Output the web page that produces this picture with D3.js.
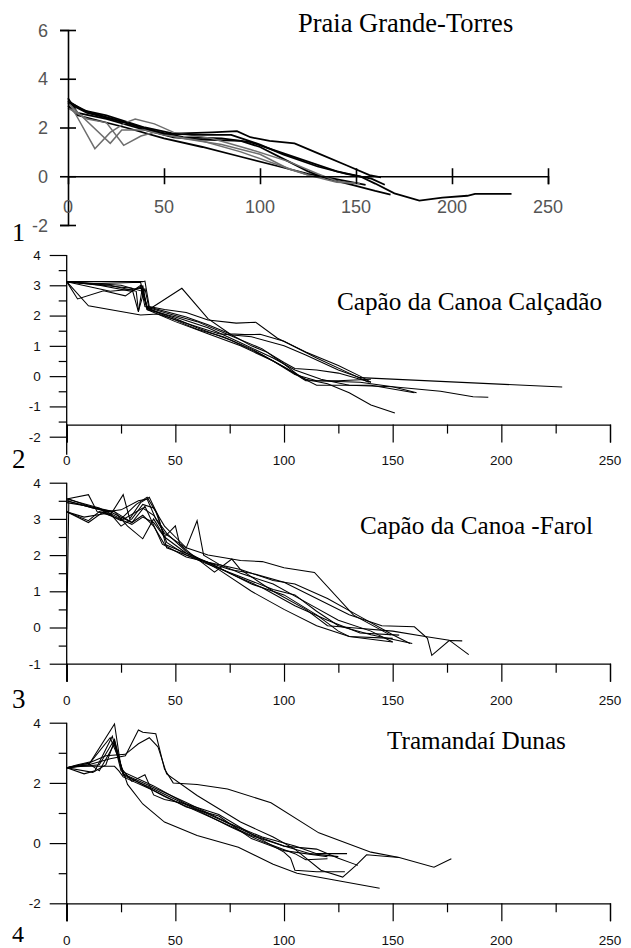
<!DOCTYPE html>
<html>
<head>
<meta charset="utf-8">
<script src="https://cdn.jsdelivr.net/npm/d3@7"></script>
<style>
  html, body { margin: 0; padding: 0; background: #fff; }
  svg { display: block; }
</style>
</head>
<body>
<svg id="chart" width="631" height="948"></svg>
<script>
// ---------- DATA ----------
const panelTitles = ["Praia Grande-Torres", "Capão da Canoa Calçadão", "Capão da Canoa -Farol", "Tramandaí Dunas"];
const panelNumbers = ["1", "2", "3", "4"];
const xTicks = [0, 50, 100, 150, 200, 250];
const xMinorTicks = [25, 75, 125, 175, 225];
const yTicks1 = [6, 4, 2, 0, -2];
const yTicks2 = [4, 3, 2, 1, 0, -1, -2];
const yMinor2 = [3.5, 2.5, 1.5, 0.5, -0.5, -1.5];
const yTicks3 = [4, 3, 2, 1, 0, -1];
const yMinor3 = [3.5, 2.5, 1.5, 0.5, -0.5];
const yTicks4 = [4, 2, 0, -2];
const yMinor4 = [3, 1, -1];

// Panel 1: Praia Grande-Torres (distance m, elevation m); grey flag per profile
const torresGrey = [false, false, false, false, true, true, true, false];
const torresProfiles = [
  [[0,3.1],[8,2.7],[20,2.5],[40,2.0],[55,1.75],[75,1.8],[88,1.85],[95,1.6],[105,1.45],[118,1.35],[130,0.95],[145,0.45],[157,0.05],[163,-0.05]],
  [[0,3.0],[10,2.6],[25,2.3],[45,1.85],[60,1.6],[80,1.55],[95,1.4],[110,1.0],[125,0.6],[140,0.2],[152,0.0],[160,-0.3],[170,-0.7],[183,-1.0],[195,-0.88],[208,-0.8],[212,-0.72],[231,-0.72]],
  [[0,3.2],[5,2.6],[20,2.35],[40,1.9],[55,1.6],[70,1.5],[90,1.45],[100,1.2],[115,0.6],[125,0.2],[135,-0.1],[148,-0.35],[160,-0.6],[168,-0.75]],
  [[0,2.9],[5,2.5],[30,2.0],[50,1.55],[70,1.2],[90,0.8],[110,0.4],[125,0.1],[135,-0.05],[145,-0.2],[155,-0.35]],
  [[0,3.1],[5,2.4],[14,1.13],[22,1.8],[30,2.2],[35,2.35],[45,2.15],[55,1.8],[75,1.55],[95,1.1],[115,0.6],[130,0.1],[140,-0.2],[150,-0.3]],
  [[0,3.0],[8,2.4],[22,1.35],[28,1.9],[40,1.9],[50,1.7],[70,1.45],[90,1.0],[110,0.45],[125,0.05],[140,-0.25],[152,-0.3]],
  [[0,2.8],[10,2.35],[20,2.2],[29,1.27],[38,1.65],[45,1.8],[60,1.55],[80,1.3],[100,0.9],[115,0.3],[125,0.05]],
  [[0,3.05],[10,2.65],[30,2.2],[50,1.75],[70,1.7],[85,1.7],[100,1.3],[112,0.9],[130,0.4],[145,0.1],[158,-0.1],[165,-0.35]]
];

// Panel 2: Capão da Canoa Calçadão
const calcadaoProfiles = [
  [[0,3.12],[35,3.12],[36,3.14],[38,2.3],[45,2.2],[55,2.1],[65,1.85],[78,1.75],[87,1.78],[97,1.25],[110,0.8],[125,0.35],[135,0.0],[140,-0.2]],
  [[0,3.12],[5,2.55],[17,2.82],[27,2.65],[34,3.0],[36,2.3],[45,2.1],[60,1.8],[75,1.35],[90,0.9],[100,0.4],[108,-0.05],[115,-0.3],[125,-0.3],[140,-0.3],[160,-0.55]],
  [[0,3.12],[10,2.32],[34,2.02],[42,2.05],[55,1.75],[70,1.4],[85,1.3],[100,1.0],[110,0.7],[125,0.2],[135,-0.05],[228,-0.36]],
  [[0,3.12],[30,2.9],[33,2.12],[35,3.0],[37,2.2],[50,1.8],[65,1.4],[80,1.0],[95,0.5],[105,0.05],[115,-0.15],[135,-0.2],[150,-0.35],[172,-0.5],[187,-0.68],[194,-0.7]],
  [[0,3.12],[20,3.0],[32,2.8],[33,2.15],[36,2.9],[38,2.2],[40,2.3],[53,2.9],[65,1.9],[75,1.4],[85,1.0],[92,0.8],[100,0.45],[105,0.25],[115,0.2],[125,0.1],[135,-0.1],[140,-0.2]],
  [[0,3.12],[15,3.0],[30,2.8],[34,2.95],[37,2.25],[50,1.9],[60,1.6],[75,1.2],[90,0.7],[100,0.3],[110,-0.1],[120,-0.25],[130,-0.55],[140,-0.95],[151,-1.22]],
  [[0,3.12],[25,3.0],[35,2.8],[37,2.3],[55,1.95],[65,1.7],[75,1.4],[82,1.37],[89,1.38],[100,1.15],[115,0.6],[130,0.1],[139,-0.2]],
  [[0,3.12],[12,3.05],[34,3.1],[37,2.25],[50,1.85],[60,1.55],[72,1.3],[85,0.9],[100,0.3],[110,-0.15],[125,-0.15],[140,-0.1]],
  [[0,3.12],[20,2.8],[35,2.9],[37,2.2],[50,1.95],[65,1.6],[80,1.1],[95,0.6],[105,0.2],[117,-0.1],[130,-0.3],[150,-0.35],[161,-0.55]]
];

// Panel 3: Capão da Canoa -Farol
const farolProfiles = [
  [[0,-0.05],[1,3.55],[8,3.4],[18,3.2],[25,3.25],[33,3.5],[37,3.55],[41,3.0],[45,2.6],[55,2.2],[65,2.0],[80,1.85],[90,1.82],[100,1.65],[114,1.52],[132,0.34],[149,-0.21]],
  [[0,3.55],[10,3.67],[14,3.2],[20,3.1],[26,3.67],[29,3.0],[34,3.45],[38,3.6],[42,3.1],[46,2.2],[55,2.0],[65,1.8],[75,1.6],[85,1.5],[100,1.25],[115,0.8],[130,0.35],[145,0.05],[160,0.02],[166,-0.3],[168,-0.77],[176,-0.36],[182,-0.37]],
  [[0,3.2],[10,2.95],[15,3.2],[20,3.15],[25,2.8],[30,3.0],[35,3.4],[40,3.3],[45,2.8],[50,2.5],[55,2.2],[60,2.95],[63,2.0],[70,1.75],[80,1.5],[95,1.2],[110,0.7],[125,0.2],[140,-0.1],[150,-0.4]],
  [[0,3.5],[12,3.3],[22,3.2],[28,2.8],[35,2.45],[40,3.0],[45,2.5],[50,2.81],[52,2.3],[58,1.99],[68,1.53],[76,1.89],[80,1.6],[95,1.0],[110,0.5],[120,0.05],[130,0.0],[150,-0.1],[165,-0.25],[176,-0.35],[185,-0.75]],
  [[0,3.2],[10,2.9],[17,3.2],[22,3.05],[30,2.85],[35,3.05],[40,2.9],[45,2.5],[55,2.05],[70,1.65],[85,1.2],[100,0.9],[115,0.35],[125,-0.1],[130,-0.25],[150,-0.3]],
  [[0,3.55],[15,3.3],[25,3.0],[32,3.4],[37,3.6],[41,3.2],[46,2.35],[55,2.0],[65,1.75],[80,1.4],[95,1.05],[105,0.9],[115,0.45],[125,0.05],[140,-0.2],[159,-0.44]],
  [[0,3.5],[12,3.3],[20,3.2],[30,2.9],[35,3.1],[40,2.8],[45,2.3],[55,2.05],[65,1.8],[75,1.5],[90,1.1],[105,0.6],[120,0.2],[135,-0.15],[153,-0.21]],
  [[0,3.2],[8,3.05],[18,3.15],[25,2.95],[35,3.3],[40,3.1],[46,2.6],[55,2.1],[70,1.6],[85,1.0],[100,0.5],[115,0.05],[130,-0.25],[150,-0.4]],
  [[0,3.45],[10,3.35],[22,3.2],[30,2.9],[36,3.35],[44,2.3],[55,1.95],[65,1.8],[80,1.6],[95,1.3],[105,1.2],[120,0.8],[135,0.3],[150,-0.2],[158,-0.44]]
];

// Panel 4: Tramandaí Dunas
const dunasProfiles = [
  [[0,2.5],[10,2.6],[20,2.8],[27,2.9],[33,3.76],[35,3.68],[41,3.63],[45,2.46],[49,2.0],[60,1.95],[74,1.8],[94,1.34],[116,0.34],[140,-0.3],[153,-0.48],[169,-0.8],[177,-0.52]],
  [[0,2.5],[10,2.65],[18,2.9],[27,2.95],[33,3.3],[38,3.5],[42,3.2],[46,2.3],[60,1.58],[80,0.7],[95,0.2],[105,-0.2],[117,-0.9],[127,-1.13],[133,-0.75],[138,-0.39],[153,-0.48]],
  [[0,2.5],[5,2.6],[11,2.7],[22,3.96],[25,2.5],[30,2.05],[36,2.27],[40,1.6],[45,1.45],[55,1.3],[70,0.95],[85,0.3],[100,-0.1],[115,-0.2],[125,-0.5],[134,-0.74]],
  [[0,2.5],[10,2.6],[20,3.5],[24,2.8],[28,1.95],[35,1.3],[45,0.7],[60,0.25],[79,-0.14],[95,-0.7],[106,-1.0],[125,-1.25],[144,-1.5]],
  [[0,2.5],[8,2.3],[13,2.4],[21,3.55],[25,2.4],[40,1.9],[55,1.3],[70,0.8],[85,0.3],[100,-0.3],[103,-0.5],[105,-0.9],[115,-0.95],[128,-0.95]],
  [[0,2.5],[10,2.65],[15,2.4],[22,3.3],[26,2.3],[40,1.85],[55,1.35],[75,0.65],[90,0.2],[105,-0.1],[115,-0.35],[129,-0.35]],
  [[0,2.5],[12,2.35],[18,2.6],[22,3.4],[26,2.25],[40,1.8],[60,1.1],[75,0.55],[90,0.05],[105,-0.35],[110,-0.55],[120,-0.52]],
  [[0,2.5],[6,2.55],[22,2.55],[24,2.4],[26,2.2],[40,1.75],[55,1.2],[70,0.9],[85,0.15],[100,-0.25],[120,-0.45]],
  [[0,2.5],[15,2.6],[22,3.45],[26,2.3],[45,1.55],[65,0.9],[85,0.25],[100,-0.1],[112,-0.35],[125,-0.45]]
];

// ---------- DRAW ----------
const svg = d3.select("#chart");
const SANS = "'Liberation Sans', Arial, sans-serif";
const SERIF = "'Liberation Serif', 'Times New Roman', serif";

// ----- Panel 1 (old style, crossing ticks, grey labels) -----
(function () {
  const x = d3.scaleLinear().domain([0, 250]).range([68, 548]);
  const y = d3.scaleLinear().domain([-2, 6]).range([225, 30]);
  const g = svg.append("g");

  const line = d3.line().x(d => x(d[0])).y(d => y(d[1]));
  g.selectAll("path.prof").data(torresProfiles).join("path")
    .attr("class", "prof")
    .attr("d", line)
    .attr("fill", "none")
    .attr("stroke", (d, i) => torresGrey[i] ? "#6e6e6e" : "#000")
    .attr("stroke-width", (d, i) => torresGrey[i] ? 1.5 : 1.8)
    .attr("stroke-linejoin", "miter");

  // y axis
  const ya = d3.axisLeft(y).tickValues(yTicks1).tickFormat("").tickSizeOuter(0).tickSize(8);
  const yg = g.append("g").attr("transform", `translate(${x(0)},0)`).call(ya);
  yg.select(".domain").attr("stroke", "#000").attr("stroke-width", 1.6);
  yg.selectAll(".tick line").attr("x1", -8).attr("x2", 8).attr("stroke", "#000").attr("stroke-width", 1.6);

  // x axis at y = 0
  const xa = d3.axisBottom(x).tickValues(xTicks.slice(1)).tickFormat("").tickSizeOuter(0).tickSize(8);
  const xg = g.append("g").attr("transform", `translate(0,${y(0)})`).call(xa);
  xg.select(".domain").attr("stroke", "#000").attr("stroke-width", 1.6);
  xg.selectAll(".tick line").attr("y1", -8).attr("y2", 8).attr("stroke", "#000").attr("stroke-width", 1.6);

  g.selectAll("text.yl").data(yTicks1).join("text")
    .attr("x", x(0) - 20).attr("y", d => y(d) + 6.5)
    .attr("text-anchor", "end")
    .attr("font-family", SANS).attr("font-size", 18).attr("fill", "#555")
    .text(d => d);
  g.selectAll("text.xl").data(xTicks).join("text")
    .attr("x", d => x(d)).attr("y", y(0) + 37)
    .attr("text-anchor", "middle")
    .attr("font-family", SANS).attr("font-size", 18).attr("fill", "#555")
    .text(d => d);

  g.append("text").attr("x", 298).attr("y", 32)
    .attr("font-family", SERIF).attr("font-size", 26.5).attr("fill", "#000")
    .text(panelTitles[0]);
  g.append("text").attr("x", 12).attr("y", 241)
    .attr("font-family", SERIF).attr("font-size", 26).attr("fill", "#000")
    .text(panelNumbers[0]);
})();

// ----- Panels 2-4 (outward ticks, minor ticks) -----
function drawPanel(cfg) {
  const x = d3.scaleLinear().domain([0, 250]).range([66.7, 610]);
  const y = d3.scaleLinear().domain(cfg.yDomain).range(cfg.yRange);
  const g = svg.append("g");
  const axisY = y(cfg.xAxisAt);

  const line = d3.line().x(d => x(d[0])).y(d => y(d[1]));
  g.selectAll("path.prof").data(cfg.profiles).join("path")
    .attr("class", "prof")
    .attr("d", line)
    .attr("fill", "none")
    .attr("stroke", "#000")
    .attr("stroke-width", 1.05)
    .attr("stroke-linejoin", "miter");

  // y axis (major + minor)
  const yMaj = d3.axisLeft(y).tickValues(cfg.yTicks).tickFormat("").tickSizeOuter(0).tickSize(17);
  const yg = g.append("g").attr("transform", `translate(${x(0)},0)`).call(yMaj);
  yg.select(".domain").remove();
  yg.selectAll(".tick line").attr("stroke", "#000").attr("stroke-width", 1.2);
  const yMin = d3.axisLeft(y).tickValues(cfg.yMinor).tickFormat("").tickSizeOuter(0).tickSize(8);
  const ym = g.append("g").attr("transform", `translate(${x(0)},0)`).call(yMin);
  ym.select(".domain").remove();
  ym.selectAll(".tick line").attr("stroke", "#000").attr("stroke-width", 1.2);
  // vertical axis line, running past the x axis down to the x=0 major tick
  g.append("line")
    .attr("x1", x(0)).attr("x2", x(0))
    .attr("y1", y(cfg.yDomain[1])).attr("y2", Math.max(axisY, y(cfg.yDomain[0])) + 18)
    .attr("stroke", "#000").attr("stroke-width", 1.3);

  // x axis
  const xMaj = d3.axisBottom(x).tickValues(xTicks).tickFormat("").tickSizeOuter(0).tickSize(18);
  const xg = g.append("g").attr("transform", `translate(0,${axisY})`).call(xMaj);
  xg.select(".domain").attr("stroke", "#000").attr("stroke-width", 1.3);
  xg.selectAll(".tick line").attr("stroke", "#000").attr("stroke-width", 1.2);
  const xMin = d3.axisBottom(x).tickValues(xMinorTicks).tickFormat("").tickSizeOuter(0).tickSize(9);
  const xm = g.append("g").attr("transform", `translate(0,${axisY})`).call(xMin);
  xm.select(".domain").remove();
  xm.selectAll(".tick line").attr("stroke", "#000").attr("stroke-width", 1.2);

  g.selectAll("text.yl").data(cfg.yTicks).join("text")
    .attr("x", x(0) - 26).attr("y", d => y(d) + 4.8)
    .attr("text-anchor", "end")
    .attr("font-family", SANS).attr("font-size", 13.5).attr("fill", "#111")
    .text(d => d);
  g.selectAll("text.xl").data(xTicks).join("text")
    .attr("x", d => x(d)).attr("y", cfg.xLabelBase)
    .attr("text-anchor", "middle")
    .attr("font-family", SANS).attr("font-size", 13.5).attr("fill", "#111")
    .text(d => d);

  g.append("text").attr("x", cfg.titleX).attr("y", cfg.titleY)
    .attr("font-family", SERIF).attr("font-size", 25.2).attr("fill", "#000")
    .text(cfg.title);
  g.append("text").attr("x", 12).attr("y", cfg.numY)
    .attr("font-family", SERIF).attr("font-size", cfg.numSize || 27).attr("fill", "#000")
    .text(cfg.num);
}

drawPanel({
  profiles: calcadaoProfiles, yDomain: [-2, 4], yRange: [436.7, 255], xAxisAt: -1.6,
  yTicks: yTicks2, yMinor: yMinor2, xLabelBase: 465,
  title: panelTitles[1], titleX: 337, titleY: 310, num: panelNumbers[1], numY: 468
});
drawPanel({
  profiles: farolProfiles, yDomain: [-1, 4], yRange: [663.7, 482.7], xAxisAt: -1,
  yTicks: yTicks3, yMinor: yMinor3, xLabelBase: 705,
  title: panelTitles[2], titleX: 360, titleY: 534, num: panelNumbers[2], numY: 708
});
drawPanel({
  profiles: dunasProfiles, yDomain: [-2, 4], yRange: [903.3, 722.7], xAxisAt: -2,
  yTicks: yTicks4, yMinor: yMinor4, xLabelBase: 945,
  title: panelTitles[3], titleX: 387, titleY: 749, num: panelNumbers[3], numY: 942, numSize: 24
});
</script>
</body>
</html>
